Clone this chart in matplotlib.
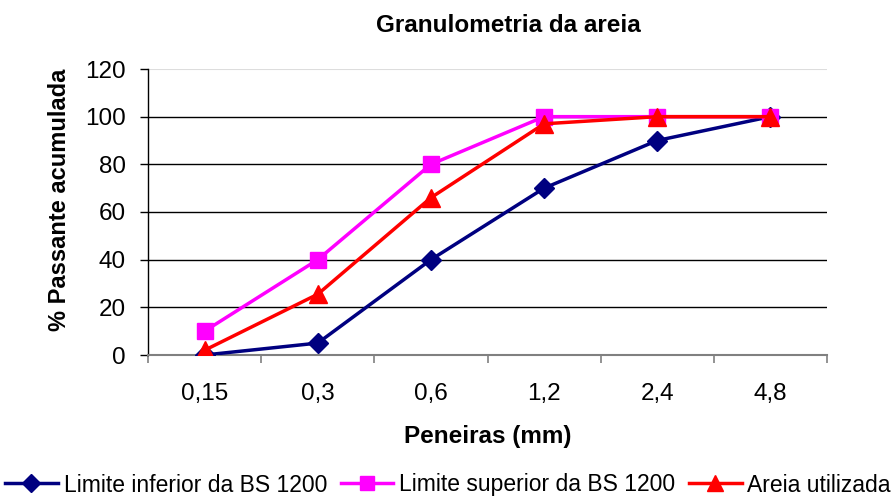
import numpy as np
import matplotlib.pyplot as plt

plt.rcParams['font.family'] = ['Liberation Sans', 'DejaVu Sans']

peneiras = ['0,15', '0,3', '0,6', '1,2', '2,4', '4,8']
lim_inf = [0, 5, 40, 70, 90, 100]
lim_sup = [10, 40, 80, 100, 100, 100]
areia = [2, 25.5, 66, 97, 100, 100]
series_names = ['Limite inferior da BS 1200', 'Limite superior da BS 1200', 'Areia utilizada']

W, H = 896, 499
fig = plt.figure(figsize=(W/100, H/100), dpi=100)
ax = fig.add_axes([148/W, 1-355/H, (827-148)/W, (355-69)/H])

x = np.arange(len(peneiras))
ax.plot(x, lim_inf, color='#000080', marker='D', markersize=10, lw=2.5,
        label=series_names[0], zorder=3)
ax.plot(x, lim_sup, color='#FF00FF', marker='s', markersize=11, lw=2.5,
        label=series_names[1], zorder=4)
ax.plot(x, areia, color='#FF0000', marker='^', markersize=13, lw=2.5,
        label=series_names[2], zorder=5)

ax.set_xlim(-0.5, len(peneiras) - 0.5)
ax.set_ylim(0, 120)
ax.set_yticks(np.arange(0, 121, 20))
for v in range(20, 101, 20):
    ax.axhline(v, color='black', lw=1, zorder=1)
ax.axhline(120, color='#dddddd', lw=1.5, zorder=1)

ax.set_xticks(x)
ax.set_xticklabels(peneiras)
ax.set_xticks(np.arange(-0.5, len(peneiras)), minor=True)
ax.tick_params(axis='x', which='major', length=0, pad=20, labelsize=17.5)
ax.tick_params(axis='x', which='minor', length=6, color='#808080', width=1.2)
ax.tick_params(axis='y', length=6, width=1, labelsize=17.5, pad=10)

for s in ['top', 'right']:
    ax.spines[s].set_visible(False)
ax.spines['bottom'].set_color('#808080')
ax.spines['bottom'].set_linewidth(1.5)
ax.spines['left'].set_linewidth(1)

fig.text(508/W, 1-25/H, 'Granulometria da areia', fontsize=17.5, fontweight='bold',
         ha='center', va='center')
ax.set_xlabel('Peneiras (mm)', fontsize=17.5, fontweight='bold', va='center')
ax.xaxis.set_label_coords(0.5, (355-437)/286)
ax.set_ylabel('% Passante acumulada', fontsize=17, fontweight='bold', va='center')
ax.yaxis.set_label_coords((60-148)/679, (355-200)/286)

fig.legend(loc='center', bbox_to_anchor=(0.5, 1-485/H), ncol=3, frameon=False,
           fontsize=16.5, handlelength=2.3, handletextpad=0.25, columnspacing=0.6,
           borderpad=0, borderaxespad=0, markerscale=0.9)

fig.savefig('out.png', dpi=100)
